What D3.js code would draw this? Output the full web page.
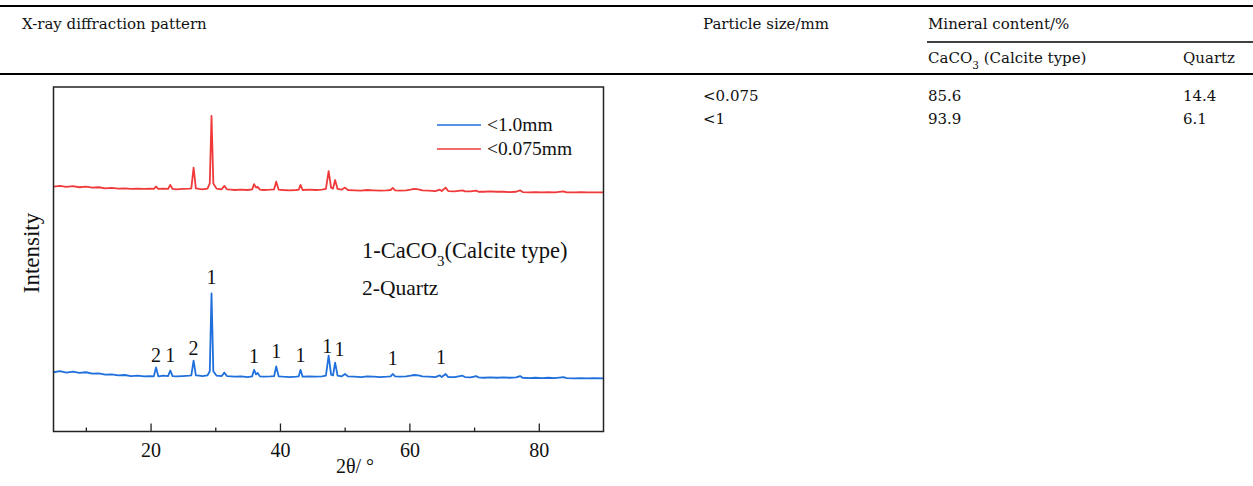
<!DOCTYPE html>
<html>
<head>
<meta charset="utf-8">
<script src="https://cdn.jsdelivr.net/npm/d3@7"></script>
<style>
  body { margin: 0; background: #fff; }
  svg { display: block; }
</style>
</head>
<body>
<svg class="page" width="1253" height="486"></svg>
<script>
// table data
const colHeaders = ['X-ray diffraction pattern', 'Particle size/mm', 'Mineral content/%'];
const particleSizes = ['<0.075', '<1'];
const calciteContent = [85.6, 93.9];
const quartzContent = [14.4, 6.1];

// xrd data, [2theta, intensity a.u.] (curves are offset)
const blueData = [[5,172],[6,175],[7,171],[8,174],[9,170],[10,172],[11,168],[12,169],[13,165],[14,166],[15,163],[16,164],[17,161],[18,162],[19,160],[20,161],[20.5,160],[20.85,186],[21.2,160],[22,162],[22.7,161],[23.05,177],[23.4,161],[24,160],[25,161],[26,162],[26.3,163],[26.65,206],[27,163],[27.5,162],[28,161],[28.8,163],[29.15,175],[29.42,401],[29.7,175],[30.2,162],[31,161],[31.4,171],[31.8,161],[32.5,160],[33,159],[34,160],[35,158],[35.7,160],[36.0,179],[36.3,166],[36.55,170],[36.9,160],[37.5,159],[38.5,160],[39.1,161],[39.42,189],[39.8,160],[40.5,159],[41.5,158],[42.5,159],[42.9,160],[43.18,179],[43.5,159],[44.5,160],[45.5,159],[46.5,160],[47.1,162],[47.52,220],[47.9,165],[48.2,163],[48.52,200],[48.9,162],[49.5,160],[50.05,167],[50.5,160],[51.5,159],[52.5,158],[53.5,160],[54.5,159],[55.5,158],[56.5,159],[57.1,160],[57.42,167],[57.8,160],[58.5,159],[59.5,160],[60.2,162],[60.7,164],[61.4,163],[62,160],[63,159],[64,158],[64.7,163],[65.0,158],[65.6,167],[66,158],[67,158],[68.2,162],[68.6,158],[69.5,157],[70.3,161],[70.7,157],[71.5,156],[72.5,157],[73.5,156],[74.5,157],[75.5,156],[76.5,157],[77.1,161],[77.5,156],[78.5,155],[79.5,156],[80.5,155],[81.5,156],[82.5,155],[83.8,158],[84.3,155],[85.5,154],[86.5,155],[87.5,154],[88.5,155],[90,154]];

const redData = [[5,711],[6,713],[7,710],[8,712],[9,709],[10,711],[11,708],[12,709],[13,706],[14,707],[15,705],[16,706],[17,704],[18,705],[19,704],[20,705],[20.5,704],[20.85,711],[21.2,704],[22,705],[22.7,704],[23.05,716],[23.4,704],[24,703],[25,704],[26,705],[26.3,706],[26.65,766],[27,706],[27.5,704],[28,703],[28.8,705],[29.15,720],[29.42,916],[29.7,720],[30.2,705],[31,703],[31.4,713],[31.8,703],[32.5,702],[33,701],[34,702],[35,701],[35.7,703],[36.0,718],[36.3,708],[36.55,710],[36.9,702],[37.5,701],[38.5,702],[39.1,703],[39.42,725],[39.8,702],[40.5,701],[41.5,700],[42.5,701],[42.9,702],[43.18,716],[43.5,701],[44.5,702],[45.5,701],[46.5,702],[47.1,704],[47.52,756],[47.9,708],[48.2,705],[48.52,730],[48.9,704],[49.5,702],[50.05,708],[50.5,701],[51.5,700],[52.5,699],[53.5,701],[54.5,700],[55.5,699],[56.5,700],[57.1,701],[57.42,707],[57.8,700],[58.5,699],[59.5,700],[60.2,702],[60.7,704],[61.4,703],[62,700],[63,699],[64,698],[64.7,702],[65.0,698],[65.6,708],[66,698],[67,697],[68.2,700],[68.6,697],[69.5,697],[70.3,699],[70.7,696],[71.5,696],[72.5,697],[73.5,696],[74.5,696],[75.5,695],[76.5,696],[77.1,700],[77.5,695],[78.5,694],[79.5,695],[80.5,694],[81.5,695],[82.5,694],[83.8,697],[84.3,694],[85.5,694],[86.5,695],[87.5,694],[88.5,694],[90,694]];

// peak labels: [2theta of label centre, label, intensity of label baseline]
const peakLabels = [[29.42,'1',428],[20.85,'2',201],[23.05,'1',201],[26.65,'2',221],[36.0,'1',198],[39.42,'1',212],[43.18,'1',201],[47.3,'1',227],[49.2,'1',218],[57.42,'1',192],[64.9,'1',195]];

const majorTicks = [20, 40, 60, 80];
const minorTicks = [10, 30, 50, 70];
const seriesNames = ['<1.0mm', '<0.075mm'];
const blue = '#1f6fdc';
const red = '#f03a3a';

const svg = d3.select('.page');
const W = +svg.attr('width');

// ---- table ----
const tFont = 'DejaVu Serif';
const tSize = 15;
const cols = [22, 703, 928, 1183];

svg.append('line').attr('x1', 0).attr('x2', W).attr('y1', 6).attr('y2', 6)
  .attr('stroke', '#000').attr('stroke-width', 2);
svg.append('line').attr('x1', 927).attr('x2', W).attr('y1', 42).attr('y2', 42)
  .attr('stroke', '#000').attr('stroke-width', 1.5);
svg.append('line').attr('x1', 0).attr('x2', W).attr('y1', 74).attr('y2', 74)
  .attr('stroke', '#000').attr('stroke-width', 2);

const tText = (x, y, s) => svg.append('text')
  .attr('x', x).attr('y', y)
  .attr('font-family', tFont).attr('font-size', tSize)
  .attr('fill', '#111').text(s);

colHeaders.forEach((h, i) => tText(cols[i], 29, h));
const cc = tText(cols[2], 63, 'CaCO');
cc.append('tspan').attr('baseline-shift', 'sub').attr('font-size', 10.5).text('3');
cc.append('tspan').text(' (Calcite type)');
tText(cols[3], 63, 'Quartz');

particleSizes.forEach((p, i) => {
  const y = 101 + i * 23;
  tText(cols[1], y, p);
  tText(cols[2], y, calciteContent[i].toFixed(1));
  tText(cols[3], y, quartzContent[i].toFixed(1));
});

// ---- chart ----
const cFont = 'Liberation Serif';
const plotL = 53.5, plotR = 603.5, plotT = 87, plotB = 431.5;

const x = d3.scaleLinear().domain([5, 90]).range([plotL, plotR]);
const y = d3.scaleLinear().domain([0, 1000]).range([plotB, plotB - 344.5]);

const line = d3.line().x(d => x(d[0])).y(d => y(d[1]));

svg.append('path').datum(redData).attr('d', line)
  .attr('fill', 'none').attr('stroke', red).attr('stroke-width', 1.8)
  .attr('stroke-linejoin', 'round');
svg.append('path').datum(blueData).attr('d', line)
  .attr('fill', 'none').attr('stroke', blue).attr('stroke-width', 1.8)
  .attr('stroke-linejoin', 'round');

// frame
svg.append('rect').attr('x', plotL).attr('y', plotT)
  .attr('width', plotR - plotL).attr('height', plotB - plotT)
  .attr('fill', 'none').attr('stroke', '#222').attr('stroke-width', 1.5);

const xAxis = svg.append('g').attr('transform', `translate(0,${plotB})`)
  .call(d3.axisBottom(x).tickValues(majorTicks).tickSize(-8).tickPadding(11).tickFormat(d3.format('d')));
xAxis.select('.domain').remove();
xAxis.selectAll('.tick line').attr('stroke', '#222').attr('stroke-width', 1.3);
xAxis.selectAll('text').attr('font-family', cFont).attr('font-size', 20).attr('fill', '#111');

const xMinor = svg.append('g').attr('transform', `translate(0,${plotB})`)
  .call(d3.axisBottom(x).tickValues(minorTicks).tickSize(-4).tickFormat(''));
xMinor.select('.domain').remove();
xMinor.selectAll('.tick line').attr('stroke', '#222').attr('stroke-width', 1.3);

svg.append('text').attr('x', 355).attr('y', 473)
  .attr('text-anchor', 'middle').attr('font-family', cFont).attr('font-size', 20)
  .attr('fill', '#111').text('2θ/ °');

svg.append('text').attr('transform', 'translate(39,253) rotate(-90)')
  .attr('text-anchor', 'middle').attr('font-family', cFont).attr('font-size', 23)
  .attr('fill', '#111').text('Intensity');

// legend
const legend = svg.append('g').attr('transform', 'translate(437,125)');
[blue, red].forEach((c, i) => {
  legend.append('line').attr('x1', 0).attr('x2', 44).attr('y1', i * 24).attr('y2', i * 24)
    .attr('stroke', c).attr('stroke-width', 1.3);
  legend.append('text').attr('x', 50).attr('y', i * 24 + 6)
    .attr('font-family', cFont).attr('font-size', 19.5).attr('fill', '#111')
    .text(seriesNames[i]);
});

// phase notes
const note = svg.append('text').attr('x', 362).attr('y', 258)
  .attr('font-family', cFont).attr('font-size', 22.5).attr('fill', '#111').text('1-CaCO');
note.append('tspan').attr('baseline-shift', 'sub').attr('font-size', 15).text('3');
note.append('tspan').text('(Calcite type)');
svg.append('text').attr('x', 362).attr('y', 295)
  .attr('font-family', cFont).attr('font-size', 21.5).attr('fill', '#111').text('2-Quartz');

// peak labels
svg.selectAll('.peak').data(peakLabels).enter().append('text')
  .attr('class', 'peak')
  .attr('x', d => x(d[0])).attr('y', d => y(d[2]))
  .attr('text-anchor', 'middle')
  .attr('font-family', cFont).attr('font-size', 20).attr('fill', '#111')
  .text(d => d[1]);
</script>
</body>
</html>
